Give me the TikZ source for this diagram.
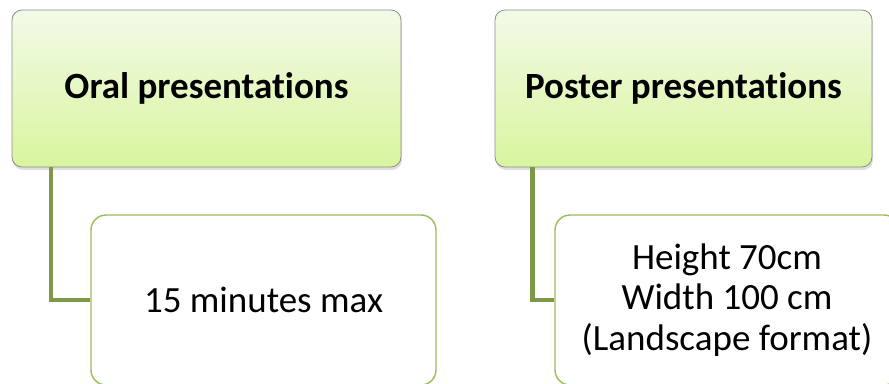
\documentclass[tikz,border=0pt]{standalone}
\usepackage{fontspec}
\setmainfont[Ligatures={NoCommon}]{Carlito}
\usetikzlibrary{shadows}
\definecolor{topc}{RGB}{243,250,232}
\definecolor{botc}{RGB}{216,245,158}
\definecolor{edgec}{RGB}{140,140,140}
\definecolor{leafc}{RGB}{155,187,89}
\definecolor{connc}{RGB}{125,152,73}
\tikzset{
  headbox/.style={draw=edgec, line width=0.8pt, rounded corners=10pt,
    top color=topc, bottom color=botc, inner sep=0pt,
    minimum width=389pt, minimum height=157pt,
    font=\fontsize{37}{40}\selectfont\bfseries,
    drop shadow={opacity=0.25, shadow xshift=1pt, shadow yshift=-3pt}},
  leafbox/.style={draw=leafc, line width=1.4pt, rounded corners=15pt,
    fill=white, inner sep=0pt, minimum height=170pt, align=center,
    font=\fontsize{37}{40.5}\selectfont},
  conn/.style={draw=connc, line width=4.5pt}
}
\begin{document}
\begin{tikzpicture}[x=1pt,y=-1pt]
\useasboundingbox (0,0) rectangle (889,383);
\begin{scope}
\clip (0,0) rectangle (889,383);
\node[headbox] (oral) at (206.5,88.5) {\raisebox{2pt}{Oral presentations}};
\node[headbox, minimum width=377pt] (poster) at (683.5,88.5) {\raisebox{2pt}{Poster presentations}};
\node[leafbox, minimum width=345pt] (dur) at (263.5,300) {15 minutes max};
\node[leafbox, minimum width=344pt] (size) at (727,300) {Height 70cm\\Width 100 cm\\(Landscape format)};
\draw[conn] ([xshift=39.5pt]oral.south west) |- (dur.west);
\draw[conn] ([xshift=38pt]poster.south west) |- (size.west);
\end{scope}
\end{tikzpicture}
\end{document}
